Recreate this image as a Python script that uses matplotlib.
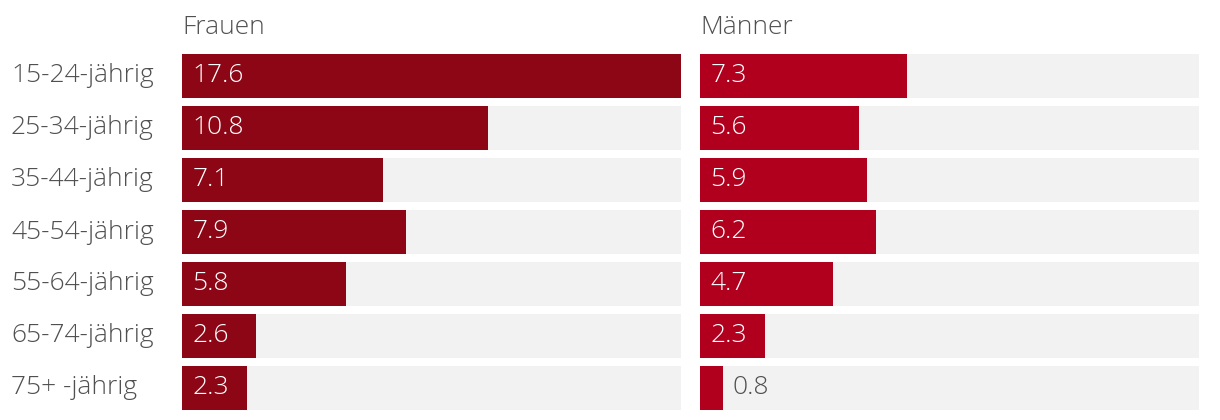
import numpy as np
import matplotlib.pyplot as plt

plt.rcParams['font.family'] = ['Open Sans', 'DejaVu Sans']
plt.rcParams['font.weight'] = 'light'

groups = ["15-24-jährig", "25-34-jährig", "35-44-jährig", "45-54-jährig",
          "55-64-jährig", "65-74-jährig", "75+ -jährig"]
frauen = [17.6, 10.8, 7.1, 7.9, 5.8, 2.6, 2.3]
maenner = [7.3, 5.6, 5.9, 6.2, 4.7, 2.3, 0.8]
panels = [("Frauen", frauen, "#8c0615"), ("Männer", maenner, "#b0001e")]

W, H = 1220, 420
fig = plt.figure(figsize=(W / 100, H / 100), dpi=100)

xmax = max(frauen)
h = 44 / 52
y = np.arange(len(groups))
text_col = "#505050"
fs = 19

lefts = [182, 700]
for (title, vals, col), left in zip(panels, lefts):
    ax = fig.add_axes([left / W, 10 / H, 499 / W, 356 / H])
    ax.barh(y, [xmax] * len(y), height=h, color="#f2f2f2")
    ax.barh(y, vals, height=h, color=col)
    ax.set_xlim(0, xmax)
    ax.set_ylim(len(y) - 1 + h / 2, -h / 2)
    ax.axis("off")
    for yi, v in zip(y, vals):
        if v > 1.5:
            ax.annotate(f"{v}", (0, yi), xytext=(7.5, 0), textcoords="offset points",
                        va="center", ha="left", color="white", fontsize=fs)
        else:
            ax.annotate(f"{v}", (v, yi), xytext=(7, 0), textcoords="offset points",
                        va="center", ha="left", color=text_col, fontsize=fs)
    fig.text(left / W, 1 - 27 / H, title, ha="left", va="center",
             color=text_col, fontsize=fs)

for yi, g in zip(y, groups):
    fig.text(11 / W, 1 - (76 + 52 * yi) / H, g, ha="left", va="center",
             color=text_col, fontsize=fs)

fig.savefig("out.png", dpi=100)
